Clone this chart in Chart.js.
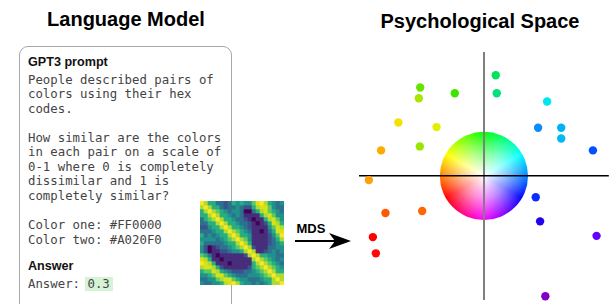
<!DOCTYPE html>
<html>
<head>
<meta charset="utf-8">
<script src="https://cdn.jsdelivr.net/npm/chart.js@4.4.1/dist/chart.umd.min.js"></script>
<style>
  html, body { margin: 0; padding: 0; background: #fff; }
  body { width: 613px; height: 304px; position: relative; overflow: hidden; }
  .abs { position: absolute; white-space: pre; }
  .title { font: bold 20px "Liberation Sans", Arial, sans-serif; line-height: 20px; color: #000; text-align: center; }
  .head { font: bold 12.6px "Liberation Sans", Arial, sans-serif; line-height: 13px; color: #111; }
  .mono { font: 12.35px "DejaVu Sans Mono", monospace; line-height: 14.55px; color: #444; margin: 0; }
  #box { position: absolute; left: 19px; top: 46px; width: 213px; height: 300px; box-sizing: border-box;
         border: 1px solid #a8a8a8; border-radius: 9px; }
  canvas { position: absolute; }
</style>
</head>
<body>
<div class="abs title" style="left:0; width:252px; top:8.8px;">Language Model</div>
<div class="abs title" style="left:380px; width:200px; top:10.5px;">Psychological Space</div>

<div id="box"></div>
<div class="abs head" style="left:28px; top:55.6px;">GPT3 prompt</div>
<pre class="abs mono" style="left:28px; top:72.5px;">People described pairs of
colors using their hex
codes.

How similar are the colors
in each pair on a scale of
0-1 where 0 is completely
dissimilar and 1 is
completely similar?

Color one: #FF0000
Color two: #A020F0</pre>
<div class="abs head" style="left:28px; top:259.7px;">Answer</div>
<div class="abs" style="left:85px; top:277px; width:28px; height:14px; background:#d6f3d6;"></div>
<pre class="abs mono" style="left:28px; top:276.8px;">Answer: 0.3</pre>

<canvas id="heat" width="84" height="84" style="left:200px; top:201px;"></canvas>

<div class="abs" style="left:296.5px; top:221.7px; font: bold 13px 'Liberation Sans', Arial, sans-serif; line-height:13px;">MDS</div>
<svg class="abs" width="613" height="304" style="left:0; top:0;">
  <line x1="295" y1="241" x2="340" y2="241" stroke="#000" stroke-width="2"/>
  <polygon points="351,241 329,233 335,241 329,249" fill="#000"/>
</svg>

<canvas id="space" width="273" height="264" style="left:340px; top:40px;"></canvas>

<script>
// similarity matrix (symmetric), upper triangle only: row r starts at column r
// digit 0-9 = low..high similarity
const heatUpper = [
  '975533235454468975434',
  '97553233432257886433',
  '9765434430035786543',
  '975543431111578644',
  '97554332101157864',
  '9755433210125875',
  '975543211114687',
  '97654311013588',
  '9755411112469',
  '976411112357',
  '97511112345',
  '9721113344',
  '971123434',
  '97554433',
  '9765434',
  '976543',
  '97654',
  '9755',
  '977',
  '97',
  '9'
];
const viridis = ['#440154', '#472d7b', '#3b528b', '#2c728e', '#21918c',
                 '#28ae80', '#5ec962', '#addc30', '#d8e219', '#fde725'];

// MDS coordinates of the rated colours
const spaceX = [0.095, 0.103, -0.510, -0.521, -0.233, 0.506, -0.685, -0.379, 0.434, 0.619, 0.619, -0.823,
                -0.513, 0.873, -0.921, 0.415, -0.788, -0.494, 0.450, -0.889, -0.865, 0.902, 0.492];
const spaceY = [0.812, 0.667, 0.714, 0.627, 0.667, 0.601, 0.431, 0.394, 0.389, 0.389, 0.302, 0.206,
                0.238, 0.206, -0.034, -0.172, -0.299, -0.283, -0.367, -0.494, -0.625, -0.484, -0.971];
const spaceColors = ['#00e35f', '#00e07c', '#66e300', '#a8e600', '#3fe300', '#00e6f0', '#f2e200', '#e4ef00',
                     '#0a8cff', '#00b2f2', '#00baf2', '#ffaa00', '#9ae600', '#0050ff', '#ff9f0a', '#0a2dff',
                     '#ff5a00', '#ff6600', '#2200f0', '#ff0000', '#ff0808', '#6400ff', '#8200c4'];
const wheelRadius = 0.353;

const heatLabels = heatUpper.map((_, i) => String(i));
const heatCell = (r, c) => +(c >= r ? heatUpper[r][c - r] : heatUpper[c][r - c]);

new Chart(document.getElementById('heat'), {
  type: 'bar',
  data: {
    labels: heatLabels,
    datasets: heatLabels.map((_, r) => ({
      data: heatLabels.map(() => [r, r + 1]),
      backgroundColor: heatLabels.map((_, c) => viridis[heatCell(r, c)]),
      borderWidth: 0,
      barPercentage: 1,
      categoryPercentage: 1,
      grouped: false
    }))
  },
  options: {
    responsive: false,
    animation: false,
    events: [],
    layout: { padding: 0 },
    plugins: { legend: { display: false }, tooltip: { enabled: false } },
    scales: {
      x: { display: false },
      y: { display: false, min: 0, max: heatLabels.length, reverse: true }
    }
  }
});

const colorWheel = {
  id: 'colorWheel',
  beforeDraw(chart) {
    const { ctx, scales } = chart;
    const cx = scales.x.getPixelForValue(0);
    const cy = scales.y.getPixelForValue(0);
    const r = scales.x.getPixelForValue(wheelRadius) - cx;
    ctx.save();
    const hue = ctx.createConicGradient(0, cx, cy);
    for (let k = 0; k <= 12; k++) {
      hue.addColorStop(k / 12, `hsl(${(210 + 30 * k) % 360}, 100%, 50%)`);
    }
    ctx.beginPath();
    ctx.arc(cx, cy, r, 0, Math.PI * 2);
    ctx.fillStyle = hue;
    ctx.fill();
    const white = ctx.createRadialGradient(cx, cy, 0, cx, cy, r);
    white.addColorStop(0, 'rgba(255,255,255,1)');
    white.addColorStop(0.5, 'rgba(255,255,255,0.55)');
    white.addColorStop(1, 'rgba(255,255,255,0)');
    ctx.fillStyle = white;
    ctx.fill();
    ctx.restore();
  }
};

const zeroOnly = color => c => (c.tick && c.tick.value === 0 ? color : 'rgba(0,0,0,0)');

new Chart(document.getElementById('space'), {
  type: 'scatter',
  data: {
    datasets: [{
      data: spaceX.map((x, i) => ({ x, y: spaceY[i] })),
      pointBackgroundColor: spaceColors,
      pointBorderWidth: 0,
      pointRadius: 4.2,
      clip: false
    }]
  },
  options: {
    responsive: false,
    animation: false,
    events: [],
    layout: { padding: { left: 19, top: 12, right: 2, bottom: 0 } },
    plugins: { legend: { display: false }, tooltip: { enabled: false } },
    scales: {
      x: {
        min: -1, max: 1,
        ticks: { display: false, stepSize: 1, padding: 0 },
        border: { display: false },
        grid: { color: zeroOnly('#7f7f7f'), lineWidth: 2, drawTicks: false }
      },
      y: {
        min: -1, max: 1,
        ticks: { display: false, stepSize: 1, padding: 0 },
        border: { display: false },
        grid: { color: zeroOnly('#000'), lineWidth: 1.5, drawTicks: false }
      }
    }
  },
  plugins: [colorWheel]
});
</script>
</body>
</html>
